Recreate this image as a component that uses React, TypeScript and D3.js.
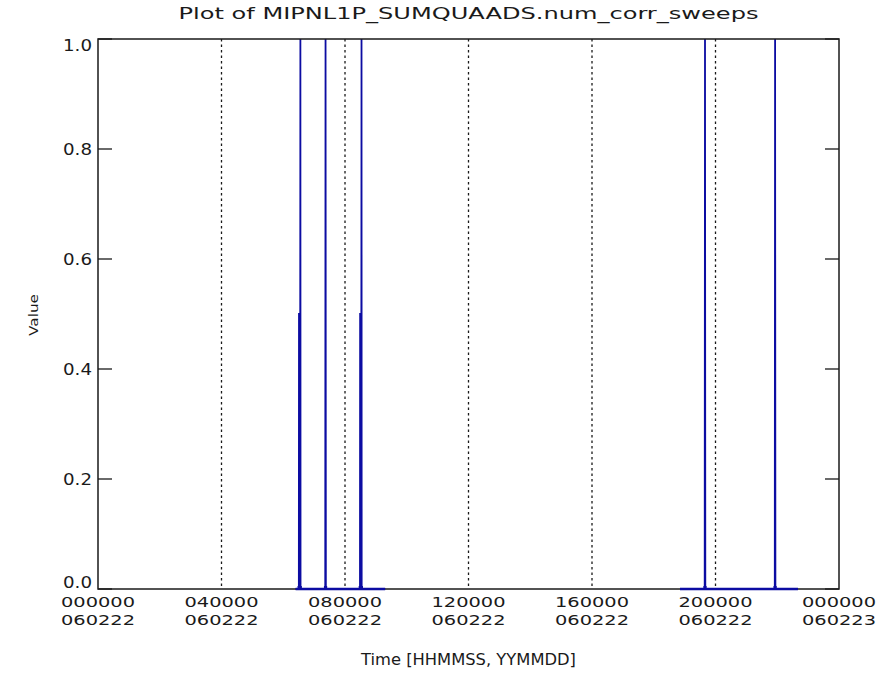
import React from "react"
import * as d3 from "d3"

// hours since 000000 060222, null = gap in data
const times = [
  6.40, 6.505, 6.51, 6.55, 6.555, 6.56, 7.36, 7.37, 7.38, 8.485, 8.49, 8.53, 8.535, 8.54, 9.30,
  9.31,
  18.85, 19.65, 19.66, 19.67, 21.92, 21.93, 21.94, 22.67,
]
const values = [
  0, 0, 0.5, 0.5, 1, 0, 0, 1, 0, 0, 0.5, 0.5, 1, 0, 0,
  null,
  0, 0, 1, 0, 0, 1, 0, 0,
]

const xTicks = [0, 4, 8, 12, 16, 20, 24]
const xTickTop = ["000000", "040000", "080000", "120000", "160000", "200000", "000000"]
const xTickBottom = ["060222", "060222", "060222", "060222", "060222", "060222", "060223"]
const yTicks = [0, 0.2, 0.4, 0.6, 0.8, 1.0]

const title = "Plot of MIPNL1P_SUMQUAADS.num_corr_sweeps"
const xLabel = "Time [HHMMSS, YYMMDD]"
const yLabel = "Value"

const W = 889
const H = 687
const margin = { top: 39, right: 50, bottom: 98, left: 98 }
const font = "'DejaVu Sans', sans-serif"
const ink = "#1a1a1a"
const blue = "#0c0ca2"

const App = () => {
  const x = d3.scaleLinear().domain([0, 24]).range([margin.left, W - margin.right])
  const y = d3.scaleLinear().domain([0, 1]).range([H - margin.bottom, margin.top])

  const points = times.map((t, i) => ({ t, v: values[i] }))
  const line = d3
    .line<{ t: number; v: number | null }>()
    .defined((d) => d.v !== null)
    .x((d) => x(d.t))
    .y((d) => y(d.v as number))

  const x0 = x(0)
  const x1 = x(24)
  const y0 = y(0)
  const y1 = y(1)
  const tickLen = 14

  return (
    <svg width={W} height={H} style={{ position: "absolute", left: 0, top: 0, background: "#fff" }}>
      <defs>
        <clipPath id="baseClip">
          <rect x={x0} y={y0 - 3} width={x1 - x0} height={6} />
        </clipPath>
      </defs>
      <rect x={0} y={0} width={W} height={H} fill="#fff" />
      <text
        x={(x0 + x1) / 2}
        y={19}
        textAnchor="middle"
        fontFamily={font}
        fontSize={15}
        textLength={580}
        lengthAdjust="spacingAndGlyphs"
        fill={ink}
      >
        {title}
      </text>

      {/* vertical dotted grid at x ticks */}
      {xTicks.slice(1, -1).map((t) => (
        <line
          key={"g" + t}
          x1={x(t)}
          x2={x(t)}
          y1={y1}
          y2={y0}
          stroke={ink}
          strokeWidth={1.3}
          strokeDasharray="2.5,3"
        />
      ))}

      {/* data */}
      <path d={line(points) || ""} fill="none" stroke={blue} strokeWidth={1.8} />

      {/* y ticks left and right */}
      {yTicks.map((t) => (
        <g key={"y" + t}>
          <line x1={x0} x2={x0 + tickLen} y1={y(t)} y2={y(t)} stroke={ink} strokeWidth={1.3} />
          <line x1={x1} x2={x1 - tickLen} y1={y(t)} y2={y(t)} stroke={ink} strokeWidth={1.3} />
          <text
            x={92}
            y={y(t) + (t === 1 ? 12 : t === 0 ? -1 : 6)}
            textAnchor="end"
            fontFamily={font}
            fontSize={16}
            textLength={29}
            lengthAdjust="spacingAndGlyphs"
            fill={ink}
          >
            {d3.format(".1f")(t)}
          </text>
        </g>
      ))}

      {/* x tick labels */}
      {xTicks.map((t, i) => (
        <g key={"x" + i}>
          <text
            x={x(t)}
            y={607}
            textAnchor="middle"
            fontFamily={font}
            fontSize={14.5}
            textLength={74}
            lengthAdjust="spacingAndGlyphs"
            fill={ink}
          >
            {xTickTop[i]}
          </text>
          <text
            x={x(t)}
            y={625}
            textAnchor="middle"
            fontFamily={font}
            fontSize={14.5}
            textLength={74}
            lengthAdjust="spacingAndGlyphs"
            fill={ink}
          >
            {xTickBottom[i]}
          </text>
        </g>
      ))}

      {/* frame */}
      <rect x={x0} y={y1} width={x1 - x0} height={y0 - y1} fill="none" stroke={ink} strokeWidth={1.5} />
      <path d={line(points) || ""} fill="none" stroke={blue} strokeWidth={2.6} clipPath="url(#baseClip)" />

      <text
        x={(x0 + x1) / 2}
        y={665}
        textAnchor="middle"
        fontFamily={font}
        fontSize={15.5}
        textLength={215}
        lengthAdjust="spacingAndGlyphs"
        fill={ink}
      >
        {xLabel}
      </text>
      <text
        transform={`translate(38,${315}) rotate(-90)`}
        textAnchor="middle"
        fontFamily={font}
        fontSize={13}
        textLength={42}
        lengthAdjust="spacingAndGlyphs"
        fill={ink}
      >
        {yLabel}
      </text>
    </svg>
  )
}

export default App
